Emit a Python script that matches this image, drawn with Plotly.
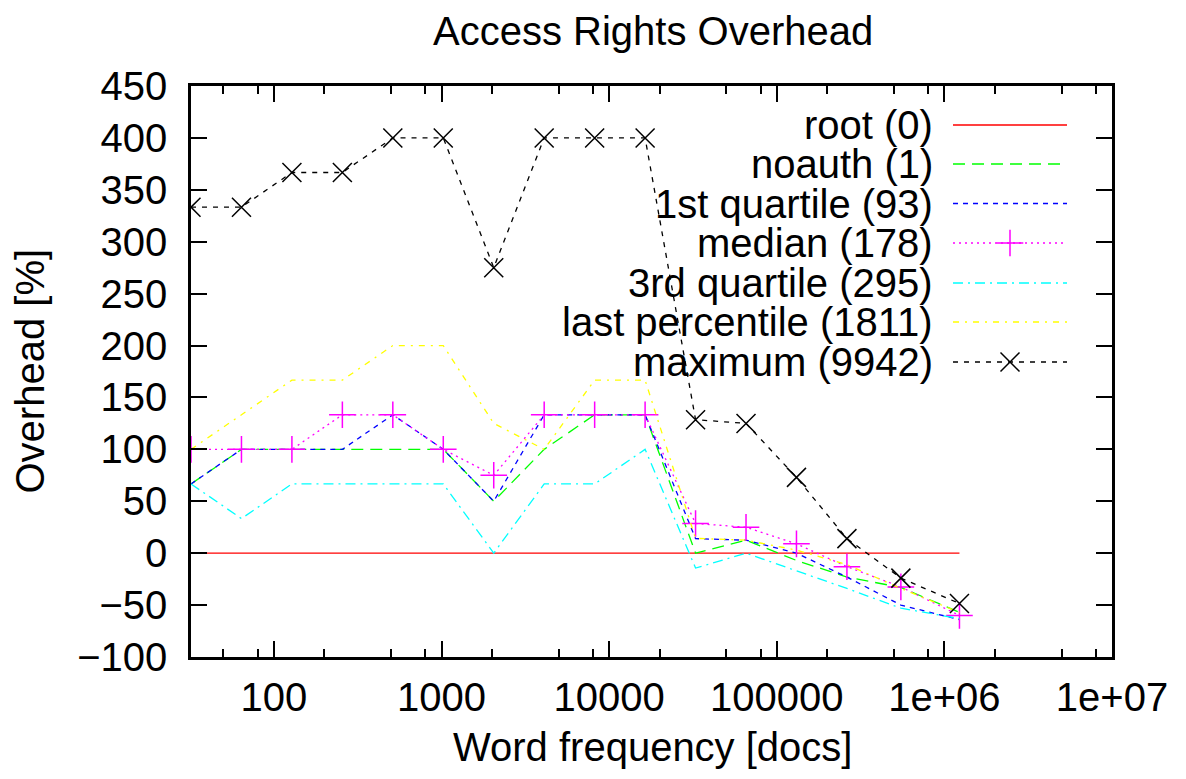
import plotly.graph_objects as go

# ---- data ----
x_docs = [32, 64, 128, 256, 512, 1024, 2048, 4096, 8192, 16384,
          32768, 65536, 131072, 262144, 550000, 1230000]
root = [0, 0, 0, 0, 0, 0, 0, 0, 0, 0, 0, 0, 0, 0, 0, 0]
noauth = [66.7, 100, 100, 100, 100, 100, 50, 100, 133.3, 133.3,
          0, 12.5, -7, -23, -33, -57]
q1 = [66.7, 100, 100, 100, 133.3, 100, 50, 133.3, 133.3, 133.3,
      14, 12.5, 0, -23, -50, -64]
median = [100, 100, 100, 133.3, 133.3, 100, 75, 133.3, 133.3, 133.3,
          28.6, 25, 9, -13, -32.5, -60]
q3 = [66.7, 33.3, 66.7, 66.7, 66.7, 66.7, 0, 66.7, 66.7, 100,
      -14.3, 0, -17, -34, -53, -63]
last_pct = [100, 133.3, 166.7, 166.7, 200, 200, 125, 100, 166.7, 166.7,
            14.3, 12.5, 3, -11, -34, -57]
maximum = [333.3, 333.3, 366.7, 366.7, 400, 400, 275, 400, 400, 400,
           128.6, 125, 73, 14, -24, -48.5]

series_names = ["root (0)", "noauth (1)", "1st quartile (93)", "median (178)",
                "3rd quartile (295)", "last percentile (1811)", "maximum (9942)"]
series_values = [root, noauth, q1, median, q3, last_pct, maximum]

x_tickvals = [100, 1000, 10000, 100000, 1000000, 10000000]
x_ticktext = ["100", "1000", "10000", "100000", "1e+06", "1e+07"]
x_minor = [50, 80, 200, 500, 800, 2000, 5000, 8000, 20000, 50000, 80000,
           200000, 500000, 800000, 2000000, 5000000, 8000000]
y_tickvals = [-100, -50, 0, 50, 100, 150, 200, 250, 300, 350, 400, 450]

title_text = "Access Rights Overhead"
x_title = "Word frequency [docs]"
y_title = "Overhead [%]"

# ---- styles ----
colors = ["#ff0000", "#00ff00", "#0000ff", "#ff00ff", "#00ffff", "#ffff00", "#000000"]
dashes = ["solid", "12px,7px", "5px,5px", "2px,4px", "10px,5px,2px,5px",
          "6px,6px,2px,6px", "5px,6px"]
symbols = [None, None, None, "cross-thin", None, None, "x-thin"]

FONT = "Liberation Sans, Arial, Helvetica, sans-serif"
FS = 40

# The page body has an 8px default margin; work in window pixels and shift.
OFF = 8
WIN_W, WIN_H = 1186, 779
W, H = WIN_W - OFF, WIN_H - OFF
# plot area in window pixels
L, R, T, B = 191, 1112, 86, 657


def px_x(p):
    return (p - L) / (R - L)


def px_y(p):
    return (B - p) / (B - T)


fig = go.Figure()

for name, vals, c, d, s in zip(series_names, series_values, colors, dashes, symbols):
    kw = {}
    if s:
        kw["marker"] = dict(symbol=s, size=19, color=c,
                            line=dict(color=c, width=1.5))
    fig.add_trace(go.Scatter(x=x_docs, y=vals, mode="lines+markers" if s else "lines",
                             name=name, line=dict(color=c, width=1.3, dash=d),
                             showlegend=False, **kw))

# ---- gnuplot-style legend (text right-aligned, sample on the right) ----
leg_rows_px = [125, 164, 203.5, 243, 283, 322, 362]
leg_x0, leg_x1, leg_xm, leg_text = 953, 1067, 1010, 934

for name, c, d, s, yp in zip(series_names, colors, dashes, symbols, leg_rows_px):
    fig.add_trace(go.Scatter(x=[px_x(leg_x0), px_x(leg_x1)], y=[px_y(yp), px_y(yp)],
                             mode="lines", line=dict(color=c, width=1.3, dash=d),
                             xaxis="x2", yaxis="y2", showlegend=False, hoverinfo="skip"))
    if s:
        fig.add_trace(go.Scatter(x=[px_x(leg_xm)], y=[px_y(yp)], mode="markers",
                                 marker=dict(symbol=s, size=19, color=c,
                                             line=dict(color=c, width=1.5)),
                                 xaxis="x2", yaxis="y2", showlegend=False,
                                 hoverinfo="skip"))
    fig.add_annotation(x=px_x(leg_text), y=px_y(yp), xref="paper", yref="paper",
                       text=name, showarrow=False, xanchor="right", yanchor="middle",
                       borderpad=0,
                       font=dict(family=FONT, size=FS, color="black"))

# titles
fig.add_annotation(x=px_x(653), y=px_y(31), xref="paper", yref="paper",
                   text=title_text, showarrow=False, xanchor="center", yanchor="middle",
                   borderpad=0,
                   font=dict(family=FONT, size=FS, color="black"))
fig.add_annotation(x=px_x(652), y=px_y(747), xref="paper", yref="paper",
                   text=x_title, showarrow=False, xanchor="center", yanchor="middle",
                   borderpad=0,
                   font=dict(family=FONT, size=FS, color="black"))
fig.add_annotation(x=px_x(29), y=px_y(371.5), xref="paper", yref="paper",
                   text=y_title, showarrow=False, xanchor="center", yanchor="middle",
                   textangle=-90, borderpad=0,
                   font=dict(family=FONT, size=FS, color="black"))

axis_common = dict(showline=True, linecolor="black", linewidth=2.5, mirror="allticks",
                   ticks="inside", tickcolor="black", tickwidth=2, showgrid=False,
                   zeroline=False, automargin=False,
                   tickfont=dict(family=FONT, size=FS, color="black"))

fig.update_layout(
    width=W, height=H,
    margin=dict(l=L - OFF, r=WIN_W - R, t=T - OFF, b=WIN_H - B, pad=0, autoexpand=False),
    paper_bgcolor="white", plot_bgcolor="white",
    showlegend=False,
    xaxis=dict(type="log", range=[1.50515, 7], tickvals=x_tickvals, ticktext=x_ticktext,
               ticklen=16, ticklabelstandoff=3,
               minor=dict(tickvals=x_minor, ticks="inside", ticklen=8,
                          tickcolor="black", tickwidth=2, showgrid=False),
               **axis_common),
    yaxis=dict(range=[-100, 450], tickvals=y_tickvals, ticklen=16,
               ticklabelstandoff=13, **axis_common),
    xaxis2=dict(overlaying="x", range=[0, 1], visible=False, fixedrange=True),
    yaxis2=dict(overlaying="y", range=[0, 1], visible=False, fixedrange=True),
)

fig.write_html("out.html")
